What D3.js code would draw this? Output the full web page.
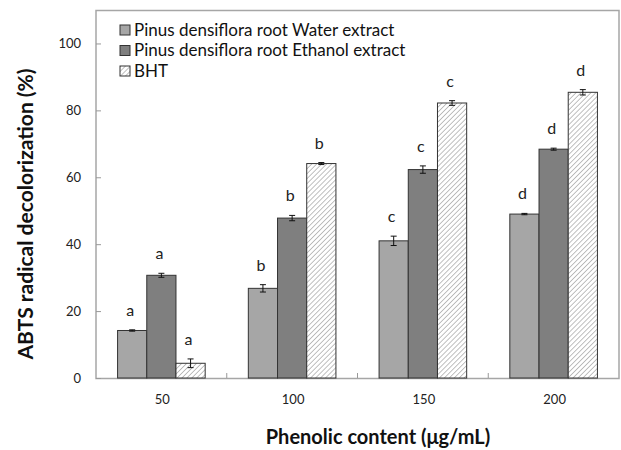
<!DOCTYPE html>
<html>
<head>
<meta charset="utf-8">
<script src="https://cdn.jsdelivr.net/npm/d3@7"></script>
<style>
  body { margin: 0; background: #fff; }
  text { font-family: Lato, "Open Sans", sans-serif; }
</style>
</head>
<body>
<svg id="chart" width="621" height="450"></svg>
<script>
// data
var doses = ['50', '100', '150', '200'];
var seriesNames = ['Pinus densiflora root Water extract', 'Pinus densiflora root Ethanol extract', 'BHT'];
var waterVals = [14.2, 26.8, 41.0, 49.0];
var ethanolVals = [30.7, 47.8, 62.3, 68.4];
var bhtVals = [4.4, 64.1, 82.2, 85.4];
var waterErr = [0.2, 1.1, 1.4, 0.2];
var ethanolErr = [0.6, 0.8, 1.1, 0.3];
var bhtErr = [1.3, 0.3, 0.7, 0.8];
var letters = ['a', 'b', 'c', 'd'];
var yTicks = [0, 20, 40, 60, 80, 100];

var svg = d3.select('#chart');
var margin = { top: 10, right: 2, bottom: 72, left: 96 };
var w = 621, h = 450;

var defs = svg.append('defs');
var pat = defs.append('pattern')
  .attr('id', 'hatch')
  .attr('patternUnits', 'userSpaceOnUse')
  .attr('width', 3.5)
  .attr('height', 3.5)
  .attr('patternTransform', 'rotate(45)');
pat.append('rect').attr('width', 3.5).attr('height', 3.5).attr('fill', '#fff');
pat.append('line')
  .attr('x1', 0).attr('y1', 0).attr('x2', 0).attr('y2', 3.5)
  .attr('stroke', '#8c8c8c').attr('stroke-width', 1.1);

var fills = ['#a6a6a6', '#7f7f7f', 'url(#hatch)'];
var vals = [waterVals, ethanolVals, bhtVals];
var errs = [waterErr, ethanolErr, bhtErr];

var rows = [];
doses.forEach(function(d, i) {
  for (var s = 0; s < 3; s++) {
    rows.push({ dose: d, s: s, v: vals[s][i], e: errs[s][i], letter: letters[i] });
  }
});

var x = d3.scaleBand()
  .domain(doses)
  .range([margin.left, w - margin.right])
  .paddingInner(0.33)
  .paddingOuter(0.165);
var x1 = d3.scaleBand()
  .domain([0, 1, 2])
  .range([0, x.bandwidth()]);
// band edges for the dividing ticks
var xb = d3.scaleBand().domain(doses).range([margin.left, w - margin.right]);

var y = d3.scaleLinear()
  .domain([0, 110])
  .range([h - margin.bottom, margin.top]);

// frame
svg.append('rect')
  .attr('x', margin.left)
  .attr('y', margin.top + 0.5)
  .attr('width', w - margin.right - margin.left)
  .attr('height', h - margin.bottom - margin.top)
  .attr('fill', 'none')
  .attr('stroke', '#a6a6a6')
  .attr('stroke-width', 1.5);

// y axis
var yAxis = d3.axisRight(y).tickValues(yTicks).tickSize(5).tickFormat('');
var gy = svg.append('g')
  .attr('transform', 'translate(' + margin.left + ',0)')
  .call(yAxis);
gy.select('.domain').remove();
gy.selectAll('.tick line').attr('stroke', '#999');

svg.selectAll('.ylab')
  .data(yTicks)
  .enter()
  .append('text')
  .attr('class', 'ylab')
  .attr('x', 81)
  .attr('y', function(d) { return y(d) + 5; })
  .attr('text-anchor', 'end')
  .attr('font-size', '13px')
  .attr('fill', '#222')
  .text(function(d) { return d; });

// x axis dividing ticks
svg.selectAll('.xtick')
  .data(doses.slice(1))
  .enter()
  .append('line')
  .attr('x1', function(d) { return xb(d); })
  .attr('x2', function(d) { return xb(d); })
  .attr('y1', y(0))
  .attr('y2', y(0) - 5)
  .attr('stroke', '#999');

svg.selectAll('.xlab')
  .data(doses)
  .enter()
  .append('text')
  .attr('x', function(d) { return xb(d) + xb.bandwidth() / 2 + 1; })
  .attr('y', 404)
  .attr('text-anchor', 'middle')
  .attr('font-size', '13px')
  .attr('fill', '#222')
  .text(function(d) { return d; });

// bars
svg.selectAll('.bar')
  .data(rows)
  .enter()
  .append('rect')
  .attr('class', 'bar')
  .attr('x', function(d) { return x(d.dose) + x1(d.s); })
  .attr('y', function(d) { return y(d.v); })
  .attr('width', x1.bandwidth())
  .attr('height', function(d) { return y(0) - y(d.v); })
  .attr('fill', function(d) { return fills[d.s]; })
  .attr('stroke', '#333')
  .attr('stroke-width', 1);

// error bars
var eb = svg.selectAll('.err')
  .data(rows)
  .enter()
  .append('g')
  .attr('class', 'err')
  .attr('stroke', '#111')
  .attr('stroke-width', 1);
eb.append('line')
  .attr('x1', function(d) { return x(d.dose) + x1(d.s) + x1.bandwidth() / 2; })
  .attr('x2', function(d) { return x(d.dose) + x1(d.s) + x1.bandwidth() / 2; })
  .attr('y1', function(d) { return y(d.v - d.e); })
  .attr('y2', function(d) { return y(d.v + d.e); });
[-1, 1].forEach(function(sg) {
  eb.append('line')
    .attr('x1', function(d) { return x(d.dose) + x1(d.s) + x1.bandwidth() / 2 - 3; })
    .attr('x2', function(d) { return x(d.dose) + x1(d.s) + x1.bandwidth() / 2 + 3; })
    .attr('y1', function(d) { return y(d.v + sg * d.e); })
    .attr('y2', function(d) { return y(d.v + sg * d.e); });
});

// significance letters
svg.selectAll('.sig')
  .data(rows)
  .enter()
  .append('text')
  .attr('class', 'sig')
  .attr('x', function(d) { return x(d.dose) + x1(d.s) + x1.bandwidth() / 2 - 2; })
  .attr('y', function(d) { return y(d.v + d.e) - 14; })
  .attr('text-anchor', 'middle')
  .attr('font-size', '16px')
  .attr('fill', '#222')
  .text(function(d) { return d.letter; });

// legend
var leg = svg.selectAll('.leg')
  .data(seriesNames)
  .enter()
  .append('g')
  .attr('class', 'leg')
  .attr('transform', function(d, i) { return 'translate(120,' + (25 + i * 20.5) + ')'; });
leg.append('rect')
  .attr('width', 10)
  .attr('height', 10)
  .attr('fill', function(d, i) { return fills[i]; })
  .attr('stroke', '#333');
leg.append('text')
  .attr('x', 14)
  .attr('y', 10.5)
  .attr('font-size', '17px')
  .attr('fill', '#111')
  .text(function(d) { return d; });

// axis titles
svg.append('text')
  .attr('transform', 'translate(33,' + 214 + ') rotate(-90)')
  .attr('text-anchor', 'middle')
  .attr('font-size', '21px')
  .attr('font-weight', 'bold')
  .attr('fill', '#111')
  .text('ABTS radical decolorization (%)');

svg.append('text')
  .attr('x', 378)
  .attr('y', 444)
  .attr('text-anchor', 'middle')
  .attr('font-size', '20px')
  .attr('font-weight', 'bold')
  .attr('fill', '#111')
  .text('Phenolic content (\u03bcg/mL)');
</script>
</body>
</html>
